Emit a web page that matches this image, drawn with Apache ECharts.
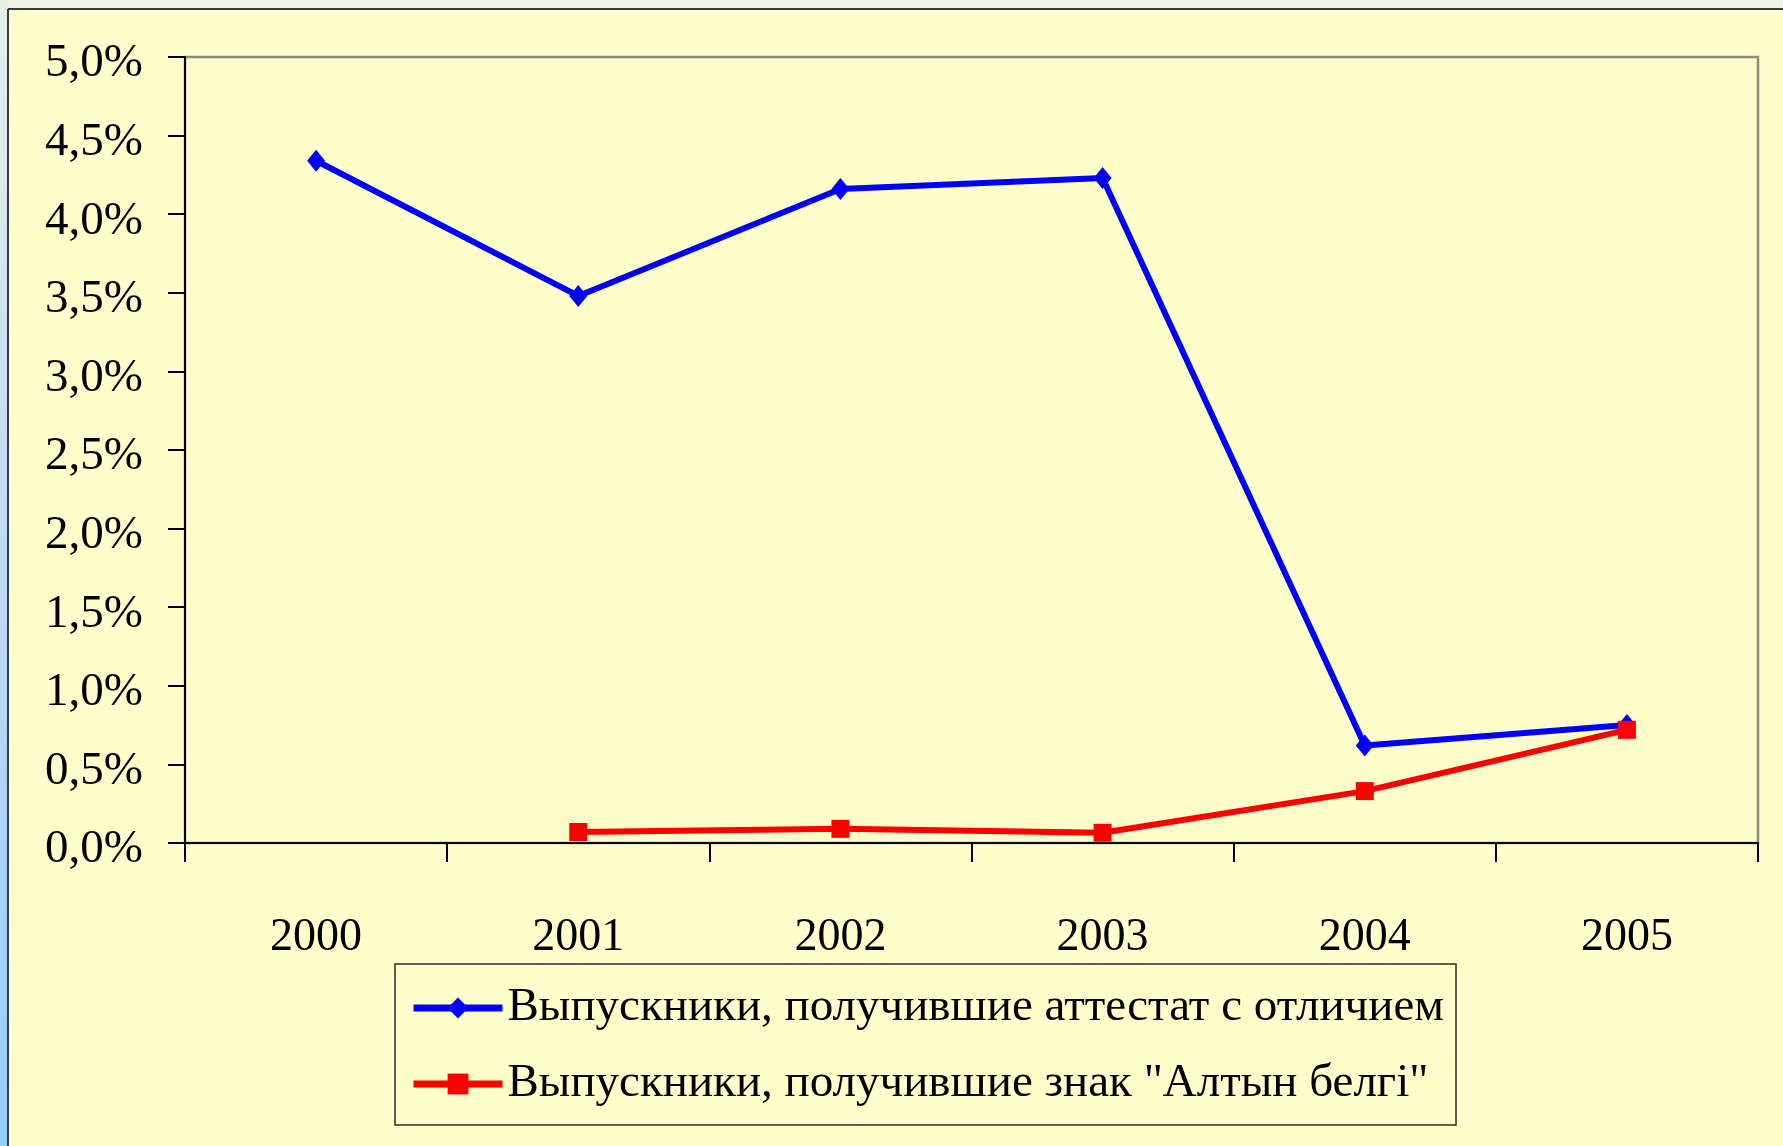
<!DOCTYPE html>
<html>
<head>
<meta charset="utf-8">
<script src="https://cdn.jsdelivr.net/npm/echarts@6/dist/echarts.min.js"></script>
<style>
  html, body { margin: 0; padding: 0; background: #ffffcc; }
  #chart { width: 1783px; height: 1146px; }
</style>
</head>
<body>
<div id="chart"></div>
<script>
// годы
const years = ['2000', '2001', '2002', '2003', '2004', '2005'];
// доля выпускников, %
const honours = [4.34, 3.48, 4.16, 4.23, 0.62, 0.75];
const altynBelgi = [null, 0.07, 0.09, 0.065, 0.33, 0.72];
const seriesNames = [
  'Выпускники, получившие аттестат с отличием',
  'Выпускники, получившие знак "Алтын белгі"'
];

const serif = '"Liberation Serif", "Times New Roman", serif';

const chart = echarts.init(document.getElementById('chart'));

chart.setOption({
  backgroundColor: '#ffffcc',
  animation: false,
  graphic: [
    { type: 'rect', shape: { x: 0, y: 0, width: 1783, height: 9 }, style: { fill: '#eef4e4' }, silent: true },
    {
      type: 'rect', shape: { x: 0, y: 0, width: 8, height: 1146 },
      style: {
        fill: new echarts.graphic.LinearGradient(0, 0, 0, 1, [
          { offset: 0, color: '#e6f0e8' },
          { offset: 0.4, color: '#c4dcf4' },
          { offset: 1, color: '#99ccff' }
        ])
      },
      silent: true
    },
    { type: 'line', shape: { x1: 8, y1: 9, x2: 1783, y2: 9 }, style: { stroke: '#3a3a3a', lineWidth: 2 }, silent: true },
    { type: 'line', shape: { x1: 8, y1: 9, x2: 8, y2: 1146 }, style: { stroke: '#3a3a3a', lineWidth: 2 }, silent: true }
  ],
  grid: {
    left: 185,
    top: 57,
    right: 25,
    bottom: 303,
    show: true,
    borderColor: '#8c8c7c',
    borderWidth: 2.5,
    backgroundColor: 'transparent'
  },
  legend: {
    orient: 'vertical',
    left: 395,
    top: 964,
    padding: [17, 12, 14, 15],
    itemWidth: 89,
    itemHeight: 26,
    itemGap: 22,
    borderColor: '#2a2a2a',
    borderWidth: 1.5,
    data: seriesNames,
    lineStyle: { width: 7 },
    textStyle: {
      fontFamily: serif,
      fontSize: 47,
      lineHeight: 54,
      color: '#000'
    }
  },
  xAxis: {
    type: 'category',
    data: years,
    boundaryGap: true,
    axisLine: { lineStyle: { color: '#000', width: 2 } },
    axisTick: { show: true, length: 19, lineStyle: { color: '#000', width: 2 } },
    axisLabel: {
      margin: 72,
      fontFamily: serif,
      fontSize: 46,
      color: '#000'
    },
    splitLine: { show: false }
  },
  yAxis: {
    type: 'value',
    min: 0,
    max: 5,
    interval: 0.5,
    axisLine: { show: true, lineStyle: { color: '#000', width: 2 } },
    axisTick: { show: true, length: 17, lineStyle: { color: '#000', width: 2 } },
    axisLabel: {
      margin: 42,
      fontFamily: serif,
      fontSize: 47,
      color: '#000',
      verticalAlign: 'top',
      lineHeight: 14,
      formatter: v => v.toFixed(1).replace('.', ',') + '%'
    },
    splitLine: { show: false }
  },
  series: [
    {
      name: seriesNames[0],
      type: 'line',
      data: honours,
      symbol: 'diamond',
      symbolSize: [18, 22],
      lineStyle: { color: '#0000ff', width: 6 },
      itemStyle: { color: '#0000ff' },
      z: 3
    },
    {
      name: seriesNames[1],
      type: 'line',
      data: altynBelgi,
      symbol: 'rect',
      symbolSize: 18,
      lineStyle: { color: '#ff0000', width: 6 },
      itemStyle: { color: '#ff0000' },
      z: 4
    }
  ]
});
</script>
</body>
</html>
